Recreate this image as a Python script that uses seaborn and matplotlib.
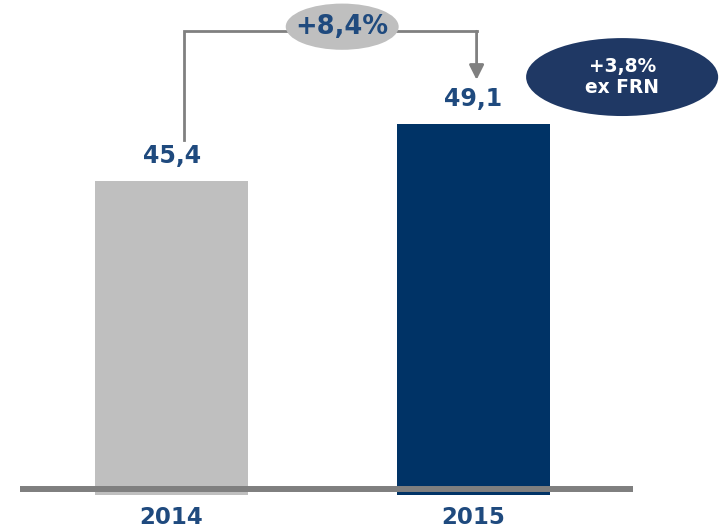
import numpy as np
import pandas as pd
import seaborn as sns
import matplotlib.pyplot as plt
from matplotlib.patches import Ellipse


# data
years = ['2014', '2015']
values = [45.4, 49.1]
value_labels = ['45,4', '49,1']
growth_label = '+8,4%'
note_label = '+3,8%\nex FRN'

bar_colors = ['#BFBFBF', '#003366']
navy = '#1F4A7E'

df = pd.DataFrame({'year': years, 'value': values})

sns.set_theme(style='white')
plt.rcParams['font.family'] = ['DejaVu Sans']

fig = plt.figure(figsize=(7.19, 5.31), dpi=100)
ax = fig.add_axes([20 / 719, 36 / 531, 613 / 719, 495 / 531])

sns.barplot(data=df, x='year', y='value', hue='year', palette=bar_colors,
            width=0.507, legend=False, ax=ax, saturation=1, linewidth=0)

y0 = 25.0
ax.set_ylim(y0, y0 + 495 / 15.405)
ax.set_xlim(-0.502, 1.528)
sns.despine(ax=ax, left=True, bottom=True)
ax.set_yticks([])
ax.set_xlabel('')
ax.set_ylabel('')

# baseline
ax.axhline(y0 + 6 / 15.405, color='#7F7F7F', lw=4.3, zorder=5)

ax.tick_params(axis='x', length=0, pad=8)
for lab in ax.get_xticklabels():
    lab.set_fontsize(16.5)
    lab.set_fontweight('bold')
    lab.set_color(navy)

# value labels
for i, (v, txt) in enumerate(zip(values, value_labels)):
    ax.text(i, v + 1.6, txt, ha='center', va='center', fontsize=17,
            fontweight='bold', color=navy)

# growth bracket
top = max(values) + 6.0
x_left, x_right = 0.04, 1.01
ax.plot([x_left, x_left, x_right],
        [values[0] + 2.65, top, top],
        color='#808080', lw=2, solid_joinstyle='miter',
        solid_capstyle='projecting', zorder=3)
ax.annotate('', xy=(x_right, values[1] + 2.85), xytext=(x_right, top),
            arrowprops=dict(arrowstyle='-|>', color='#808080', lw=2,
                            mutation_scale=22, shrinkA=0, shrinkB=0))

ax.add_patch(Ellipse((0.565, top + 0.3), 0.374, 3.0, facecolor='#BFBFBF',
                     edgecolor='none', zorder=4))
ax.text(0.565, top + 0.3, growth_label, ha='center', va='center', fontsize=18.5,
        fontweight='bold', color=navy, zorder=6)

# ex FRN note
ax.add_patch(Ellipse((1.492, 52.13), 0.636, 5.06, facecolor='#1F3864',
                     edgecolor='none', zorder=4, clip_on=False))
ax.text(1.492, 52.13, note_label, ha='center', va='center', fontsize=13.4,
        fontweight='bold', color='white', linespacing=1.15, zorder=6)

plt.savefig('out.png', dpi=100)
